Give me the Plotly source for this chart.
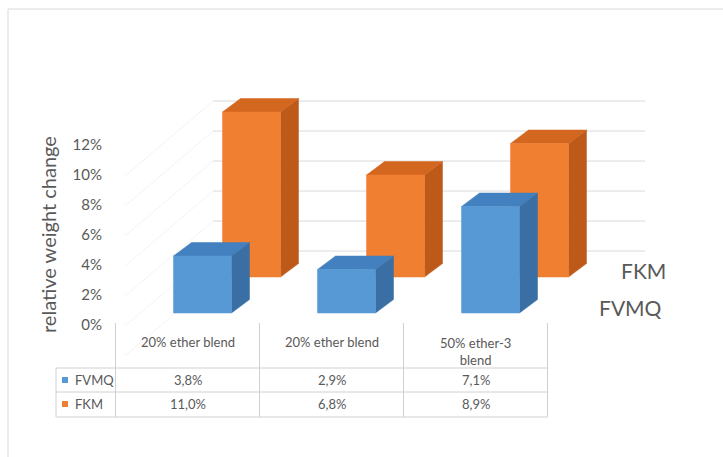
import plotly.graph_objects as go

# ---- data ----
categories = ["20% ether blend", "20% ether blend", "50% ether-3<br>blend"]
series_names = ["FVMQ", "FKM"]
fvmq = [3.8, 2.9, 7.1]
fkm = [11.0, 6.8, 8.9]
tick_vals = [0, 2, 4, 6, 8, 10, 12]
tick_text = ["0%", "2%", "4%", "6%", "8%", "10%", "12%"]
y_title = "relative weight change"

# ---- styling / projection (axis units: x = category, y = percent) ----
PX_PER_CAT = 144.0
PX_PER_PCT = 15.0
X0_PX = 187.5   # pixel of category 0 centre
Y0_PX = 325.0   # pixel of 0% on front plane
W, H = 723, 457

def ux(px):
    return (px - X0_PX) / PX_PER_CAT

def uy(py):
    return (Y0_PX - py) / PX_PER_PCT

BAR_W = 58 / PX_PER_CAT
DDX = 18 / PX_PER_CAT
DDY = 13.5 / PX_PER_PCT
series_cfg = [
    dict(vals=fvmq, off=15 / PX_PER_CAT, base=0.8,
         front="#5799D5", top="#4380BF", side="#3A6FA6"),
    dict(vals=fkm, off=64 / PX_PER_CAT, base=3.2,
         front="#F07F32", top="#D3671F", side="#BD5A19"),
]
BACK_OFF = 2.93
BACK_X0, BACK_X1 = ux(213), ux(645)
GRID = "#d9d9d9"
TXT = "#595959"
FONT = "Lato"

fig = go.Figure()

def poly(xs, ys, color):
    fig.add_trace(go.Scatter(x=xs + [xs[0]], y=ys + [ys[0]], mode="lines",
                             fill="toself", fillcolor=color,
                             line=dict(color=color, width=0.5),
                             hoverinfo="skip", showlegend=False))

# draw back series first, then front
for cfg in reversed(series_cfg):
    for i, v in enumerate(cfg["vals"]):
        c = i + cfg["off"]
        xl, xr = c - BAR_W / 2, c + BAR_W / 2
        b = cfg["base"]
        t = b + v
        # side face
        poly([xr, xr + DDX, xr + DDX, xr], [b, b + DDY, t + DDY, t], cfg["side"])
        # top face
        poly([xl, xr, xr + DDX, xl + DDX], [t, t, t + DDY, t + DDY], cfg["top"])
        # front face
        poly([xl, xr, xr, xl], [b, b, t, t], cfg["front"])

shapes = []
# back wall gridlines (0% line hidden behind floor)
for g in tick_vals[1:]:
    shapes.append(dict(type="line", xref="x", yref="y", layer="below",
                       x0=BACK_X0, x1=BACK_X1, y0=g + BACK_OFF, y1=g + BACK_OFF,
                       line=dict(color=GRID, width=1)))
for g in tick_vals:
    # faint side wall lines
    shapes.append(dict(type="line", xref="x", yref="y", layer="below",
                       x0=BACK_X0, x1=ux(125), y0=g + BACK_OFF, y1=g + BACK_OFF - 75 / PX_PER_PCT,
                       line=dict(color="#f3f3f3", width=1)))

# data table
TL = "#d0d0d0"
row_tops = [uy(368), uy(392), uy(417)]
for yy in row_tops:
    shapes.append(dict(type="line", xref="x", yref="y", x0=ux(56), x1=len(categories) - 0.5,
                       y0=yy, y1=yy, line=dict(color=TL, width=1)))
for k in range(len(categories) + 1):
    shapes.append(dict(type="line", xref="x", yref="y", x0=k - 0.5, x1=k - 0.5,
                       y0=uy(323), y1=uy(417), line=dict(color=TL, width=1)))
shapes.append(dict(type="line", xref="x", yref="y", x0=ux(56), x1=ux(56),
                   y0=uy(368), y1=uy(417), line=dict(color=TL, width=1)))
# outer chart border
shapes.append(dict(type="rect", xref="paper", yref="paper", x0=8 / W, x1=1.02,
                   y0=-0.02, y1=1 - 9 / H, line=dict(color="#d9d9d9", width=1)))

annotations = []
for i, cat in enumerate(categories):
    yy = uy(351) if "<br>" in cat else uy(342)
    annotations.append(dict(x=i, y=yy, xref="x", yref="y", text=cat, showarrow=False,
                            font=dict(family=FONT, size=13, color=TXT)))
row_y = [uy(380), uy(404)]
for s, cfg in enumerate(series_cfg):
    for i, v in enumerate(cfg["vals"]):
        annotations.append(dict(x=i, y=row_y[s], xref="x", yref="y",
                                text=f"{v:.1f}%".replace(".", ","), showarrow=False,
                                font=dict(family=FONT, size=13, color=TXT)))
    annotations.append(dict(x=ux(73), y=row_y[s], xref="x", yref="y", xanchor="left",
                            text=series_names[s], showarrow=False,
                            font=dict(family=FONT, size=13, color=TXT)))
    shapes.append(dict(type="rect", xref="x", yref="y", x0=ux(62), x1=ux(68),
                       y0=row_y[s] - 3 / PX_PER_PCT, y1=row_y[s] + 3 / PX_PER_PCT,
                       fillcolor=cfg["front"], line=dict(width=0)))

# depth-axis series labels
annotations.append(dict(x=ux(619), y=uy(270), xref="x", yref="y", xanchor="left",
                        text=series_names[1], showarrow=False,
                        font=dict(family=FONT, size=21, color=TXT)))
annotations.append(dict(x=ux(597), y=uy(307), xref="x", yref="y", xanchor="left",
                        text=series_names[0], showarrow=False,
                        font=dict(family=FONT, size=21, color=TXT)))
# y title
annotations.append(dict(x=ux(48), y=uy(235), xref="x", yref="y", text=y_title,
                        textangle=-90, showarrow=False,
                        font=dict(family=FONT, size=20, color=TXT)))

fig.update_layout(
    width=W, height=H, margin=dict(l=0, r=0, t=0, b=0),
    paper_bgcolor="white", plot_bgcolor="white",
    showlegend=False, shapes=shapes, annotations=annotations,
    xaxis=dict(range=[ux(0), ux(W)], visible=False, fixedrange=True),
    yaxis=dict(range=[uy(H), uy(0)], anchor="free", position=102 / W,
               showgrid=False, zeroline=False, showline=False, ticks="",
               tickvals=tick_vals, ticktext=tick_text,
               tickfont=dict(family=FONT, size=15, color=TXT), fixedrange=True),
)

fig.write_html("out.html")
